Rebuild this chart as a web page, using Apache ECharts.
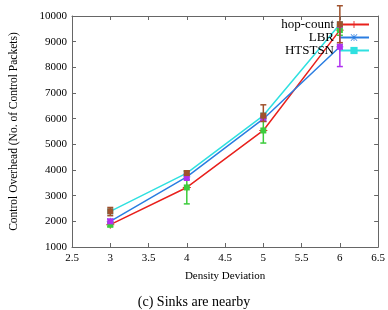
<!DOCTYPE html>
<html><head><meta charset="utf-8">
<script src="https://cdn.jsdelivr.net/npm/echarts@6/dist/echarts.min.js"></script>
<style>html,body{margin:0;padding:0;background:#fff}#c{width:388px;height:310px}</style>
</head><body><div id="c"></div>
<script>
// ---- data ----
var xValues = [3, 4, 5, 6];
var hopCount = [1870, 3320, 5540, 9450];
var hopLow   = [1790, 2680, 5050, 9250];
var hopHigh  = [1950, 3960, 6030, 9650];
var lbr      = [2000, 3730, 5990, 8800];
var lbrLow   = [1930, 3600, 5900, 8030];
var lbrHigh  = [2070, 3850, 6100, 9570];
var htstsn     = [2390, 3880, 6120, 9680];
var htstsnLow  = [2220, 3800, 5890, 8960];
var htstsnHigh = [2540, 3960, 6540, 10400];
var seriesNames = ['hop-count', 'LBR', 'HTSTSN'];
var xTicks = {min: 2.5, max: 6.5, step: 0.5};
var yTicks = {min: 1000, max: 10000, step: 1000};
var xTitle = 'Density Deviation';
var yTitle = 'Control Overhead (No. of Control Packets)';
var caption = '(c) Sinks are nearby';

// ---- build ----
var FONT = 'Liberation Serif';
var AX = '#666';
var RED = '#e8201c', BLUE = '#2a7de1', CYAN = '#2fe0e0';
var GREEN = '#3ccc3c', MAGENTA = '#b030f0', BROWN = '#a0522d';
var PLUS = 'path://M4.4,0H5.6V4.4H10V5.6H5.6V10H4.4V5.6H0V4.4H4.4Z';
var STAR = 'path://M0,4.5H10V5.5H0Z M4.5,0H5.5V10H4.5Z M1,0.3L9.7,9L9,9.7L0.3,1Z M9,0.3L9.7,1L1,9.7L0.3,9Z';

function pairs(ys) { return xValues.map(function (x, i) { return [x, ys[i]]; }); }
function errData(ys, lo, hi) { return xValues.map(function (x, i) { return [x, ys[i], lo[i], hi[i]]; }); }

function errSeries(data, color) {
  return {
    type: 'custom', data: data, clip: false, z: 5, silent: true,
    encode: {x: 0, y: [1, 2, 3]},
    renderItem: function (params, api) {
      var x = api.value(0);
      var p = api.coord([x, api.value(1)]);
      var lo = api.coord([x, api.value(2)]);
      var hi = api.coord([x, api.value(3)]);
      var c = 3, s = 3;
      var st = {stroke: color, lineWidth: 1.5};
      return {type: 'group', children: [
        {type: 'line', shape: {x1: lo[0], y1: lo[1], x2: hi[0], y2: hi[1]}, style: st},
        {type: 'line', shape: {x1: lo[0] - c, y1: lo[1], x2: lo[0] + c, y2: lo[1]}, style: st},
        {type: 'line', shape: {x1: hi[0] - c, y1: hi[1], x2: hi[0] + c, y2: hi[1]}, style: st},
        {type: 'rect', shape: {x: p[0] - s, y: p[1] - s, width: 2 * s, height: 2 * s}, style: {fill: color}}
      ]};
    }
  };
}

function lineSeries(name, ys, color, symbol, size) {
  return {
    name: name, type: 'line', data: pairs(ys), symbol: symbol, symbolSize: size,
    lineStyle: {color: color, width: 1.5}, itemStyle: {color: color}, z: 3
  };
}

var chart = echarts.init(document.getElementById('c'), null, {renderer: 'canvas'});
chart.setOption({
  animation: false,
  backgroundColor: '#fff',
  grid: {left: 70, right: 7, top: 16, bottom: 63},
  legend: {
    data: seriesNames, orient: 'vertical', align: 'right', right: 18, top: 18,
    itemWidth: 30, itemHeight: 9, itemGap: 0, padding: 0,
    textStyle: {fontFamily: FONT, fontSize: 13, lineHeight: 12.5, color: '#000'}
  },
  xAxis: [{
    type: 'value', min: xTicks.min, max: xTicks.max, interval: xTicks.step,
    axisLine: {lineStyle: {color: AX, width: 1}}, splitLine: {show: false},
    axisTick: {inside: true, length: 4, lineStyle: {color: AX}},
    axisLabel: {fontFamily: FONT, fontSize: 11, color: '#000', margin: 6},
    name: xTitle, nameLocation: 'middle', nameGap: 24,
    nameTextStyle: {fontFamily: FONT, fontSize: 11, color: '#000'}
  }, {
    type: 'value', position: 'top', min: xTicks.min, max: xTicks.max, interval: xTicks.step,
    axisLine: {lineStyle: {color: AX, width: 1}}, splitLine: {show: false},
    axisTick: {inside: true, length: 4, lineStyle: {color: AX}}, axisLabel: {show: false}
  }],
  yAxis: [{
    type: 'value', min: yTicks.min, max: yTicks.max, interval: yTicks.step,
    axisLine: {show: true, lineStyle: {color: AX, width: 1}}, splitLine: {show: false},
    axisTick: {show: true, inside: true, length: 4, lineStyle: {color: AX}},
    axisLabel: {fontFamily: FONT, fontSize: 11, color: '#000', margin: 5,
      formatter: function (v) { return String(v); }},
    name: yTitle, nameLocation: 'middle', nameGap: 52, nameRotate: 90,
    nameTextStyle: {fontFamily: FONT, fontSize: 11.5, color: '#000'}
  }, {
    type: 'value', position: 'right', min: yTicks.min, max: yTicks.max, interval: yTicks.step,
    axisLine: {show: true, lineStyle: {color: AX, width: 1}}, splitLine: {show: false},
    axisTick: {show: true, inside: true, length: 4, lineStyle: {color: AX}}, axisLabel: {show: false}
  }],
  graphic: [{
    type: 'text', left: 'center', top: 295,
    style: {text: caption, font: '14px "Liberation Serif"', fill: '#000'}
  }],
  series: [
    lineSeries(seriesNames[0], hopCount, RED, PLUS, 8),
    lineSeries(seriesNames[1], lbr, BLUE, STAR, 7),
    lineSeries(seriesNames[2], htstsn, CYAN, 'rect', 6),
    errSeries(errData(hopCount, hopLow, hopHigh), GREEN),
    errSeries(errData(lbr, lbrLow, lbrHigh), MAGENTA),
    errSeries(errData(htstsn, htstsnLow, htstsnHigh), BROWN)
  ]
});
</script></body></html>
